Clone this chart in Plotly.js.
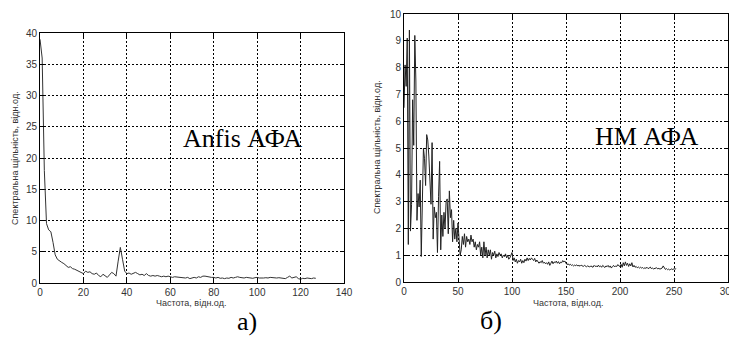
<!DOCTYPE html>
<html>
<head>
<meta charset="utf-8">
<script src="https://cdn.plot.ly/plotly-3.0.1.min.js"></script>
<style>html,body{margin:0;padding:0;background:#fff;}#chart{width:729px;height:338px;}</style>
</head>
<body>
<div id="chart"></div>
<script>
// Panel a) Anfis АФА spectrum, x = 0..127
const anfisFreq = Array.from({length: 128}, (_, i) => i);
const anfisPSD = [
  39, 36, 18, 9.5, 8.5, 8.2, 6.5, 4.5, 3.8, 3.5,
  3.3, 3.1, 2.8, 2.5, 2.6, 2.3, 2.2, 2.0, 1.9, 1.7,
  1.5, 1.9, 1.7, 1.8, 1.5, 1.4, 1.6, 1.2, 1.0, 1.4,
  1.1, 0.9, 1.3, 1.7, 1.5, 1.1, 3.5, 5.7, 3.8, 1.9,
  1.5, 1.6, 1.4, 1.5, 1.7, 1.5, 1.3, 1.4, 1.2, 1.5,
  1.2, 1.1, 1.2, 1.1, 1.2, 1.1, 1.0, 1.1, 1.0, 1.1,
  1.0, 0.9, 1.0, 0.95, 0.9, 0.85, 0.9, 0.8, 0.9, 0.7,
  0.8, 0.9, 0.8, 1.0, 0.9, 1.1, 1.1, 1.0, 1.0, 0.9,
  0.9, 0.8, 0.9, 0.75, 0.8, 0.7, 0.8, 0.75, 0.9, 0.8,
  0.9, 1.0, 0.9, 0.85, 0.8, 0.9, 0.85, 0.8, 0.75, 0.85,
  0.9, 0.8, 0.75, 0.8, 0.85, 0.8, 0.9, 0.85, 0.9, 0.8,
  0.85, 0.8, 0.75, 0.7, 0.9, 1.1, 0.8, 0.9, 1.0, 0.7,
  0.6, 0.75, 0.7, 0.8, 0.75, 0.7, 0.8, 0.75
];

// Panel б) НМ АФА spectrum, x = 0..252
const nmFreq = Array.from({length: 253}, (_, i) => i);
const nmPSD = [
  6.5, 8.1, 7.3, 9.1, 1.4, 9.4, 1.9, 2.9, 6.8, 5.1,
  9.2, 7.5, 2.3, 3.3, 2.8, 3.8, 0.95, 3.0, 5.0, 4.6,
  3.6, 5.5, 5.3, 4.7, 3.5, 2.9, 5.2, 1.6, 2.8, 2.4,
  2.6, 1.1, 3.2, 4.5, 1.2, 2.5, 1.7, 2.6, 2.0, 3.0,
  3.1, 1.8, 3.4, 2.4, 2.7, 1.5, 2.3, 1.6, 2.0, 1.5,
  2.2, 1.3, 1.0, 1.2, 1.7, 1.4, 1.8, 1.3, 1.7, 1.5,
  1.6, 1.4, 1.75, 1.5, 1.6, 1.3, 1.5, 1.2, 1.4, 1.3,
  1.5, 1.0, 1.3, 0.9, 1.5, 1.0, 1.3, 0.9, 1.2, 1.0,
  1.2, 0.85, 1.1, 1.0, 1.15, 0.9, 1.05, 0.95, 1.1, 1.0,
  1.05, 0.9, 1.0, 0.95, 1.05, 0.9, 1.0, 0.85, 0.9, 1.0,
  1.1, 0.8, 0.9, 0.75, 0.85, 0.7, 0.8, 0.75, 0.85, 0.7,
  0.8, 0.72, 0.85, 0.78, 0.9, 0.8, 0.88, 0.82, 0.9, 0.85,
  0.8, 0.88, 0.75, 0.82, 0.78, 0.7, 0.76, 0.72, 0.8, 0.7,
  0.74, 0.68, 0.72, 0.66, 0.75, 0.62, 0.7, 0.78, 0.68, 0.75,
  0.72, 0.78, 0.7, 0.76, 0.68, 0.74, 0.72, 0.8, 0.75, 0.78,
  0.7, 0.65, 0.68, 0.63, 0.66, 0.62, 0.64, 0.6, 0.63, 0.61,
  0.64, 0.6, 0.62, 0.59, 0.63, 0.6, 0.58, 0.62, 0.6, 0.57,
  0.6, 0.58, 0.56, 0.6, 0.57, 0.55, 0.62, 0.58, 0.6, 0.56,
  0.63, 0.57, 0.6, 0.55, 0.62, 0.58, 0.54, 0.6, 0.57, 0.62,
  0.55, 0.6, 0.52, 0.58, 0.62, 0.56, 0.6, 0.58, 0.65, 0.6,
  0.58, 0.66, 0.55, 0.72, 0.6, 0.75, 0.62, 0.7, 0.58, 0.68,
  0.6, 0.72, 0.56, 0.62, 0.55, 0.58, 0.53, 0.56, 0.52, 0.55,
  0.52, 0.54, 0.5, 0.53, 0.51, 0.55, 0.5, 0.52, 0.56, 0.5,
  0.52, 0.49, 0.51, 0.5, 0.53, 0.49, 0.51, 0.48, 0.5, 0.52,
  0.6, 0.5, 0.47, 0.5, 0.46, 0.48, 0.45, 0.47, 0.49, 0.46,
  0.5, 0.48, 0.5
];

const xTitle = 'Частота, відн.од.';
const yTitle = 'Спектральна щільність, відн.од.';
const labelA = 'Anfis АФА';
const labelB = 'НМ АФА';
const panelA = 'а)';
const panelB = 'б)';

const W = 729, H = 338;
const px = x => x / W;
const py = y => 1 - y / H;

const tickFont = {family: 'Liberation Sans, Arial, sans-serif', size: 10, color: '#333'};
const axisCommon = {
  showline: true, mirror: 'ticks', linecolor: '#000', linewidth: 1,
  ticks: 'inside', ticklen: 4, tickcolor: '#000',
  showgrid: true, gridcolor: '#000', gridwidth: 1, griddash: '2px,2px',
  zeroline: false, tickfont: tickFont, fixedrange: true
};

const traces = [
  {x: anfisFreq, y: anfisPSD, type: 'scatter', mode: 'lines',
   line: {color: '#333', width: 1}, xaxis: 'x', yaxis: 'y', showlegend: false},
  {x: nmFreq, y: nmPSD, type: 'scatter', mode: 'lines',
   line: {color: '#222', width: 1}, xaxis: 'x2', yaxis: 'y2', showlegend: false}
];

const serif = {family: 'Times New Roman, Liberation Serif, serif', size: 26, color: '#000'};
const small = {family: 'Liberation Sans, Arial, sans-serif', size: 9, color: '#333'};

const layout = {
  width: W, height: H,
  margin: {l: 0, r: 0, t: 0, b: 0},
  paper_bgcolor: '#fff', plot_bgcolor: '#fff',
  showlegend: false,
  xaxis: Object.assign({}, axisCommon, {domain: [px(40), px(344)], range: [0, 140], dtick: 20, anchor: 'y'}),
  yaxis: Object.assign({}, axisCommon, {domain: [py(283), py(33)], range: [0, 40], dtick: 5, anchor: 'x'}),
  xaxis2: Object.assign({}, axisCommon, {domain: [px(404), px(728)], range: [0, 300], dtick: 50, anchor: 'y2', ticklabeloverflow: 'allow'}),
  yaxis2: Object.assign({}, axisCommon, {domain: [py(282), py(14)], range: [0, 10], dtick: 1, anchor: 'x2'}),
  annotations: [
    {text: labelA, xref: 'paper', yref: 'paper', x: px(242), y: py(138), showarrow: false, font: serif, xanchor: 'center', yanchor: 'middle'},
    {text: labelB, xref: 'paper', yref: 'paper', x: px(646), y: py(136), showarrow: false, font: serif, xanchor: 'center', yanchor: 'middle'},
    {text: panelA, xref: 'paper', yref: 'paper', x: px(247), y: py(321), showarrow: false, font: serif, xanchor: 'center', yanchor: 'middle'},
    {text: panelB, xref: 'paper', yref: 'paper', x: px(491), y: py(320), showarrow: false, font: serif, xanchor: 'center', yanchor: 'middle'},
    {text: xTitle, xref: 'paper', yref: 'paper', x: px(191), y: py(303), showarrow: false, font: small, xanchor: 'center', yanchor: 'middle'},
    {text: xTitle, xref: 'paper', yref: 'paper', x: px(568), y: py(303), showarrow: false, font: small, xanchor: 'center', yanchor: 'middle'},
    {text: yTitle, xref: 'paper', yref: 'paper', x: px(15), y: py(158), showarrow: false, font: small, textangle: -90, xanchor: 'center', yanchor: 'middle'},
    {text: yTitle, xref: 'paper', yref: 'paper', x: px(377), y: py(147), showarrow: false, font: small, textangle: -90, xanchor: 'center', yanchor: 'middle'}
  ]
};

Plotly.newPlot('chart', traces, layout, {staticPlot: true, displayModeBar: false});
</script>
</body>
</html>
